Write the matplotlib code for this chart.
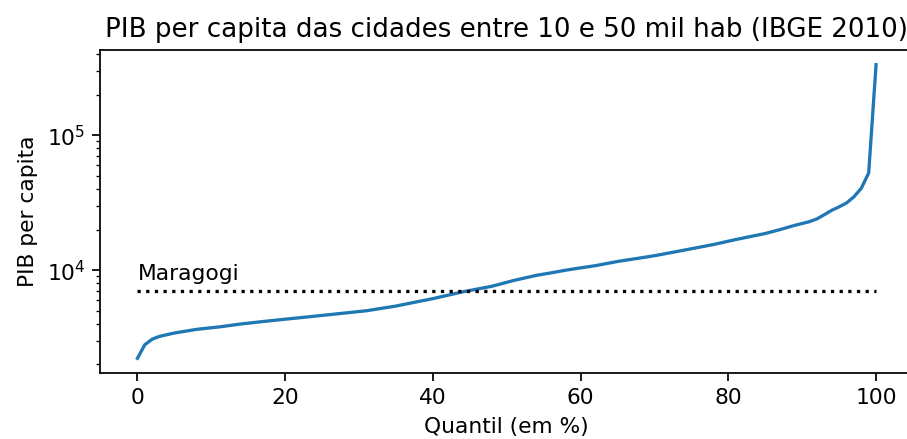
import matplotlib
matplotlib.use('Agg')
import matplotlib.pyplot as plt

# quantis (em %) e PIB per capita
quantis = [0, 1, 2, 3, 5, 8, 11, 14, 17, 20, 22, 26, 31, 35, 38, 40, 44, 48,
           51, 54, 56, 58, 60, 62, 65, 68, 70, 74, 78, 81, 85, 87, 89, 91, 92,
           93, 94, 95, 96, 97, 98, 99, 100]
pib = [2220, 2800, 3080, 3230, 3420, 3640, 3790, 3990, 4160, 4330, 4440, 4680,
       5000, 5420, 5850, 6150, 6900, 7600, 8400, 9150, 9550, 10000, 10400,
       10800, 11600, 12300, 12800, 14070, 15500, 16870, 18700, 20000, 21500,
       22900, 24000, 25800, 27800, 29500, 31500, 35000, 40500, 52600, 334000]

pib_maragogi = 7000

dpi = 157
fig = plt.figure(figsize=(908 / dpi, 439 / dpi), dpi=dpi)
ax = fig.add_axes([100.5 / 908, 1 - 373 / 439, 812.5 / 908, 323 / 439])

ax.plot(quantis, pib)
ax.hlines(pib_maragogi, 0, 100, colors='black', linestyles=':')
ax.text(0, pib_maragogi * 1.2, 'Maragogi')
ax.set_yscale('log')

ax.set_title('PIB per capita das cidades entre 10 e 50 mil hab (IBGE 2010)')
ax.set_xlabel('Quantil (em %)')
ax.set_ylabel('PIB per capita')

fig.savefig('out.png', dpi=dpi)
